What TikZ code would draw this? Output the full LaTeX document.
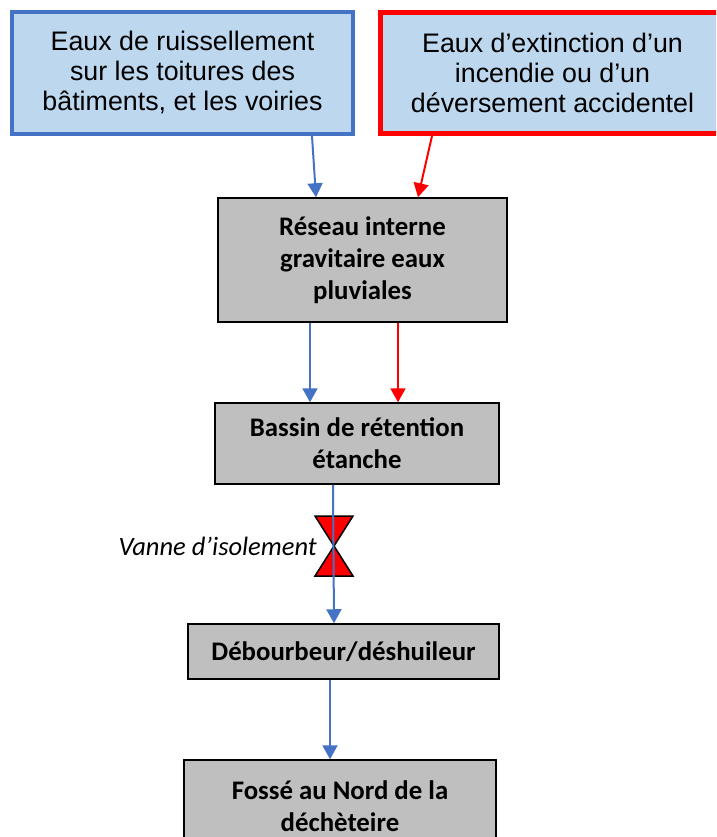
\documentclass[tikz,border=0pt]{standalone}
\usepackage{fontspec}
\setmainfont{Carlito}
\newfontfamily\arialf{Liberation Sans}
\usetikzlibrary{arrows.meta,calc}
\definecolor{srcblue}{HTML}{4472C4}
\definecolor{srcfill}{HTML}{BDD7EE}
\definecolor{boxgray}{HTML}{BFBFBF}
\definecolor{srcred}{HTML}{FF0000}
\begin{document}
\begin{tikzpicture}[x=1pt,y=-1pt,
  srcbox/.style={draw, fill=srcfill, align=center, inner sep=0pt,
    font=\arialf\fontsize{26.8}{30}\selectfont},
  procbox/.style={draw=black, line width=1.5pt, fill=boxgray, align=center, inner sep=0pt,
    font=\bfseries\fontsize{26.8}{32}\selectfont},
  flow/.style={line width=2pt, -{Triangle[width=15pt,length=14pt]}},
  blueflow/.style={flow, draw=srcblue, color=srcblue},
  redflow/.style={flow, draw=srcred, color=srcred}]
\useasboundingbox (0,0) rectangle (716,837);
\begin{scope}
\clip (0,0) rectangle (716,837);
\node[srcbox, draw=srcblue, line width=4pt, minimum width=341pt, minimum height=122pt] (src1) at (182.5,73)
  {Eaux de ruissellement\\sur les toitures des\\bâtiments, et les voiries};
\node[srcbox, draw=srcred, line width=5pt, minimum width=345pt, minimum height=121pt] (src2) at (552.5,73)
  {Eaux d’extinction d’un\\incendie ou d’un\\déversement accidentel};
\node[procbox, minimum width=289pt, minimum height=124pt] (res) at (362.5,260)
  {Réseau interne\\gravitaire eaux\\pluviales};
\node[procbox, minimum width=284pt, minimum height=81pt] (bassin) at (357,443.5)
  {Bassin de rétention\\étanche};
\node[procbox, minimum width=311pt, minimum height=55pt] (deb) at (343.5,651.5)
  {Débourbeur/déshuileur};
\node[procbox, minimum width=312pt, minimum height=92pt] (fosse) at (340,806)
  {Fossé au Nord de la\\déchèteire};
\end{scope}
% valve
\coordinate (valve) at (334,546);
\fill[srcred, draw=black, line width=1.5pt, line join=miter]
  ($(valve)+(-19,-30)$) -- ($(valve)+(19,-30)$) -- (valve) -- cycle;
\fill[srcred, draw=black, line width=1.5pt, line join=miter]
  ($(valve)+(-19,30)$) -- ($(valve)+(19,30)$) -- (valve) -- cycle;
\node[anchor=east, inner sep=0pt, font=\itshape\fontsize{26.5}{30}\selectfont] (vlabel) at (317,546) {Vanne d’isolement};
% connectors
\draw[blueflow] ([xshift=129.5pt]src1.south) -- ([xshift=-46.5pt]res.north);
\draw[redflow] ([xshift=-120.5pt]src2.south) -- ([xshift=55.5pt]res.north);
\draw[blueflow] ([xshift=-52.5pt]res.south) -- ([xshift=-47pt]bassin.north);
\draw[redflow] ([xshift=35.5pt]res.south) -- ([xshift=41pt]bassin.north);
\draw[blueflow] ([xshift=-24pt]bassin.south) -- ([xshift=-9.5pt]deb.north);
\draw[blueflow] ([xshift=-13.5pt]deb.south) -- ([xshift=-10pt]fosse.north);
\end{tikzpicture}
\end{document}
